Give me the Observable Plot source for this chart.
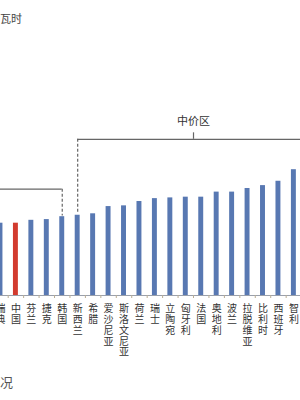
<!DOCTYPE html>
<html>
<head>
<meta charset="utf-8">
<script src="https://cdn.jsdelivr.net/npm/d3@7"></script>
<script src="https://cdn.jsdelivr.net/npm/@observablehq/plot@0.6"></script>
<style>
  html, body { margin: 0; padding: 0; background: #fff; width: 300px; overflow: hidden; }
  body { font-family: "Noto Sans CJK SC", sans-serif; }
  #title { height: 30px; box-sizing: border-box; padding-top: 12px; padding-left: 0; font-size: 11px; line-height: 13px; color: #444; }
  #caption { height: 30px; font-size: 13px; line-height: 24px; color: #555; }
  svg { display: block; }
</style>
</head>
<body>
<div id="title">瓦时</div>
<div id="chart"></div>
<div id="caption">况</div>
<script>
const countries = ["瑞典","中国","芬兰","捷克","韩国","新西兰","希腊","爱沙尼亚","斯洛文尼亚","荷兰","瑞士","立陶宛","匈牙利","法国","奥地利","波兰","拉脱维亚","比利时","西班牙","智利"];
const prices = [0.100,0.100,0.104,0.105,0.109,0.111,0.113,0.123,0.124,0.130,0.134,0.135,0.136,0.136,0.143,0.143,0.148,0.152,0.158,0.174];
const highlight = "中国";

const lowBracket = {label: "低价区", start: "瑞典", end: "韩国", level: 0.147};
const midBracket = {label: "中价区", start: "新西兰", end: "智利", center: "匈牙利", level: 0.216};

const data = countries.map((c, i) => ({country: c, price: prices[i]}));
const priceOf = c => prices[countries.indexOf(c)];

const step = 15.44;
const bw = 5;

const chart = Plot.plot({
  width: 300,
  height: 340,
  marginLeft: 0,
  marginRight: 0,
  marginTop: 0,
  marginBottom: 75,
  style: {fontFamily: "Noto Sans CJK SC, sans-serif", background: "#fff", overflow: "hidden"},
  x: {type: "band", domain: countries, range: [-12.94, 306.3], paddingInner: 0.68, paddingOuter: 0.676, align: 0.5, round: false, axis: null},
  y: {domain: [0, 0.25], range: [265, 84.25], axis: null},
  marks: [
    Plot.barY(data, {x: "country", y: "price", fill: d => d.country === highlight ? "#d23b2f" : "#5878b2"}),
    Plot.ruleY([0], {stroke: "#9aa0ab", strokeWidth: 1}),
    // separator ticks between categories
    Plot.axisX({tickSize: 3, tickFormat: null, dx: step / 2, stroke: "#b9ad95"}),
    // stacked vertical labels
    Plot.axisX({tickSize: 0, tickPadding: 9, fontSize: 10, lineHeight: 1.08, fill: "#333",
      tickFormat: d => [...d].join("\n")}),
    // low-price bracket (left part off-screen)
    Plot.ruleY([lowBracket], {y: "level", x1: "start", x2: "end", insetRight: bw / 2, stroke: "#666", strokeWidth: 1.2}),
    Plot.ruleX([lowBracket], {x: "end", y1: "level", y2: d => priceOf(d.end) + 0.001, stroke: "#666", strokeWidth: 1.2, strokeDasharray: "3,2"}),
    // mid-price bracket
    Plot.ruleY([midBracket], {y: "level", x1: "start", x2: "end", insetLeft: bw / 2, insetRight: -step, stroke: "#666", strokeWidth: 1.2}),
    Plot.ruleX([midBracket], {x: "start", y1: "level", y2: d => priceOf(d.start) + 0.002, stroke: "#666", strokeWidth: 1.2, strokeDasharray: "3,2"}),
    Plot.ruleX([midBracket], {x: "center", dx: step / 2, y1: "level", y2: d => d.level + 0.009, stroke: "#666", strokeWidth: 1.2}),
    Plot.text([midBracket], {x: "center", dx: step / 2, y: "level", dy: -18, text: "label", fontSize: 11, fill: "#333"})
  ]
});
document.getElementById("chart").append(chart);
</script>
</body>
</html>
